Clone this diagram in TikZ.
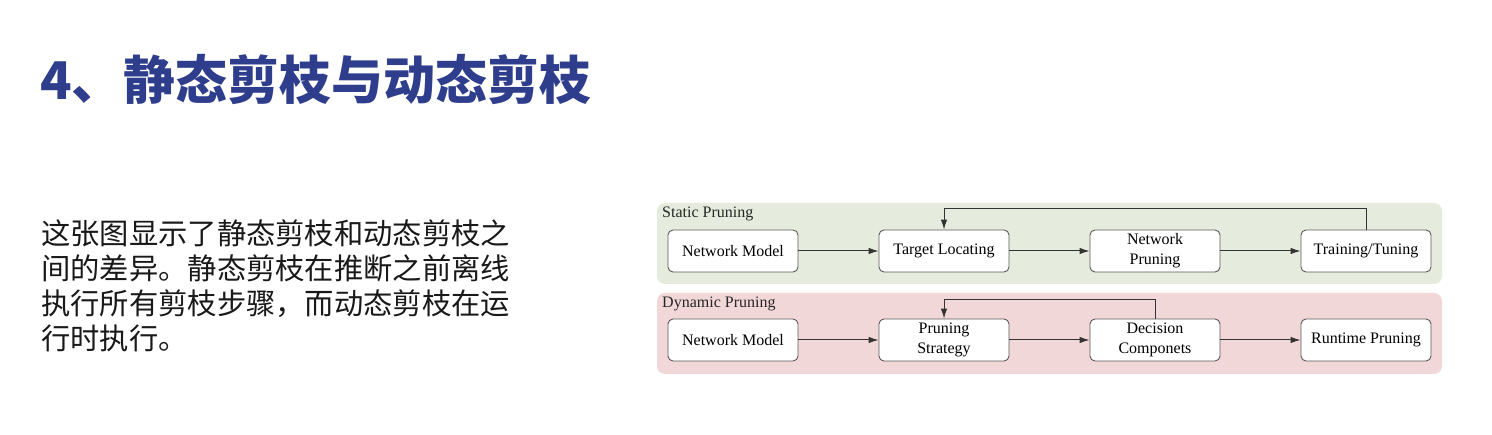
\documentclass[tikz,border=0pt]{standalone}
\usepackage{fontspec}
\setmainfont{Liberation Serif}
\newfontfamily\cjk{Noto Sans CJK SC}
\usetikzlibrary{arrows.meta}

\begin{document}
\begin{tikzpicture}[x=1pt,y=-1pt,
  stagebox/.style={draw=black!65,fill=white,rounded corners=5pt,line width=0.9pt,
    minimum width=130pt,minimum height=42pt,inner sep=0pt,align=center,
    font=\fontsize{16}{20}\selectfont},
  flow/.style={draw=black!80,line width=1pt,-{Latex[length=10pt,width=6.5pt]}},
  panellabel/.style={anchor=west,inner sep=0pt,font=\fontsize{16}{20}\selectfont,text=black!85}]
\colorlet{title_blue}{rgb,255:red,46;green,62;blue,140}
\colorlet{static_fill}{rgb,255:red,230;green,236;blue,221}
\colorlet{dynamic_fill}{rgb,255:red,242;green,215;blue,216}

\useasboundingbox[fill=white] (0,0) rectangle (1492,435);

% title and explanation
\node[anchor=west,inner sep=0pt,text=title_blue,font=\cjk\bfseries\fontsize{52}{56}\selectfont]
  (title) at (40,80) {4、静态剪枝与动态剪枝};
\node[anchor=north west,inner sep=0pt,align=left,text=black!90,font=\cjk\fontsize{29.3}{35}\selectfont]
  (explain) at (41,220) {这张图显示了静态剪枝和动态剪枝之\\间的差异。静态剪枝在推断之前离线\\执行所有剪枝步骤，而动态剪枝在运\\行时执行。};

% panels
\fill[static_fill,rounded corners=8pt] (657,203) rectangle (1442,284);
\fill[dynamic_fill,rounded corners=8pt] (657,293) rectangle (1442,374);
\node[panellabel] (static_label) at (662,214) {Static Pruning};
\node[panellabel] (dynamic_label) at (662,304) {Dynamic Pruning};

% Static line
\foreach \n/\x/\t in {1/733/Network Model,2/944/Target Locating,3/1155/Network\\Pruning,4/1366/{Training/Tuning}}{
\node[stagebox] (s\n) at (\x,251) {\t};
}
% Dynamic line
\foreach \n/\x/\t in {1/733/Network Model,2/944/Pruning\\Strategy,3/1155/Decision\\Componets,4/1366/Runtime Pruning}{
\node[stagebox] (d\n) at (\x,340) {\t};
}
\foreach \a/\b in {1/2,2/3,3/4}{
\draw[flow] (s\a) -- (s\b);
\draw[flow] (d\a) -- (d\b);
}
\draw[flow] (s4.north) -- ++(0,-21) -| (s2.north);
\draw[flow] (d3.north) -- ++(0,-19) -| (d2.north);
\end{tikzpicture}
\end{document}
